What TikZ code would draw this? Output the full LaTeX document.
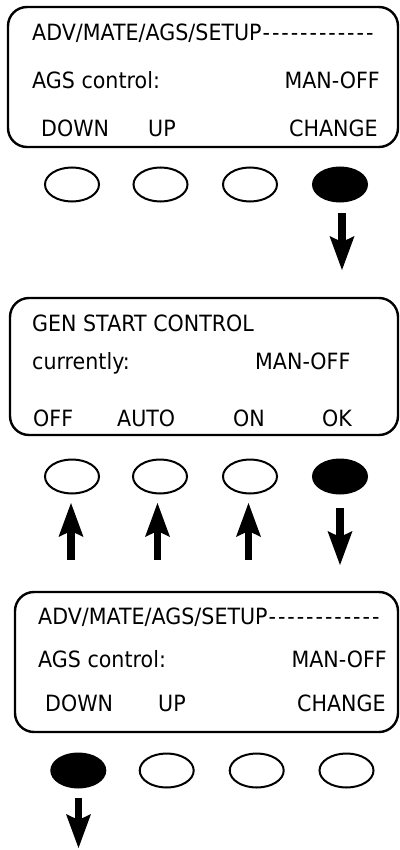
\documentclass[tikz,border=0pt]{standalone}
\usepackage{fontspec}
\setmainfont{DejaVu Sans}[FakeStretch=0.92]
\usetikzlibrary{arrows.meta,shapes.geometric}
\newcommand\onedash{\makebox[9.4pt]{-}}
\newcommand\dashrow{\onedash\onedash\onedash\onedash\onedash\onedash\onedash\onedash\onedash\onedash\onedash\onedash}
\begin{document}
\begin{tikzpicture}[x=1pt,y=-1pt,
  screen/.style={draw, line width=2.4pt, rounded corners=19pt, inner sep=0pt},
  btn/.style={ellipse, draw, line width=2pt, minimum width=54pt, minimum height=34pt, inner sep=0pt},
  pressed/.style={btn, fill=black},
  lbl/.style={font=\fontsize{22.4}{26}\selectfont, inner sep=0pt, anchor=base west},
  lblr/.style={lbl, anchor=base east},
  press/.style={line width=7.5pt, -{Stealth[length=34pt,width=25pt,inset=6pt,line width=0pt]}}
]
\useasboundingbox (0,0) rectangle (399,850);

% ---------- screen 1 ----------
\node[screen, minimum width=390pt, minimum height=140pt] (s1) at (203,77) {};
\node[lbl]  (s1l1) at (32,41)  {ADV/MATE/AGS/SETUP\dashrow};
\node[lbl]  (s1l2) at (32,89)  {AGS control:};
\node[lblr] (s1v)  at (380,89) {MAN-OFF};
\node[lbl]  (s1k1) at (41,137) {DOWN};
\node[lbl]  (s1k2) at (148,137) {UP};
\node[lbl]  (s1k4) at (289,137) {CHANGE};

\node[btn]     (b11) at (72,184.5) {};
\node[btn]     (b12) at (160.5,184.5) {};
\node[btn]     (b13) at (250,184.5) {};
\node[pressed] (b14) at (340,184.5) {};

\coordinate (a1s) at (342,213);
\coordinate (a1e) at (342,270);
\draw[press] (a1s) -- (a1e);

% ---------- screen 2 ----------
\node[screen, minimum width=388pt, minimum height=137pt] (s2) at (204,366.5) {};
\node[lbl] (s2l1) at (32,331) {GEN START CONTROL};
\node[lbl] (s2l2) at (32,369) {currently:};
\node[lbl] (s2v)  at (255,369) {MAN-OFF};
\node[lbl] (s2k1) at (33,426) {OFF};
\node[lbl] (s2k2) at (117,426) {AUTO};
\node[lbl] (s2k3) at (233,426) {ON};
\node[lbl] (s2k4) at (322,426) {OK};

\node[btn]     (b21) at (72,476.5) {};
\node[btn]     (b22) at (160,476.5) {};
\node[btn]     (b23) at (250,476.5) {};
\node[pressed] (b24) at (340,476.5) {};

\coordinate (u1s) at (71,560);   \coordinate (u1e) at (71,503);
\coordinate (u2s) at (157.5,560); \coordinate (u2e) at (157.5,503);
\coordinate (u3s) at (248.5,560); \coordinate (u3e) at (248.5,503);
\coordinate (a2s) at (340,508);  \coordinate (a2e) at (340,565);
\draw[press] (u1s) -- (u1e);
\draw[press] (u2s) -- (u2e);
\draw[press] (u3s) -- (u3e);
\draw[press] (a2s) -- (a2e);

% ---------- screen 3 ----------
\node[screen, minimum width=383pt, minimum height=140pt] (s3) at (206.5,662) {};
\node[lbl]  (s3l1) at (38,624)  {ADV/MATE/AGS/SETUP\dashrow};
\node[lbl]  (s3l2) at (38,667)  {AGS control:};
\node[lblr] (s3v)  at (387,667) {MAN-OFF};
\node[lbl]  (s3k1) at (45,711) {DOWN};
\node[lbl]  (s3k2) at (158,711) {UP};
\node[lbl]  (s3k4) at (297,711) {CHANGE};

\node[pressed] (b31) at (78.3,770.5) {};
\node[btn]     (b32) at (166.7,770.5) {};
\node[btn]     (b33) at (256.7,770.5) {};
\node[btn]     (b34) at (346.5,770.5) {};

\coordinate (a3s) at (78.5,798);
\coordinate (a3e) at (78.5,848);
\draw[press] (a3s) -- (a3e);
\end{tikzpicture}
\end{document}
